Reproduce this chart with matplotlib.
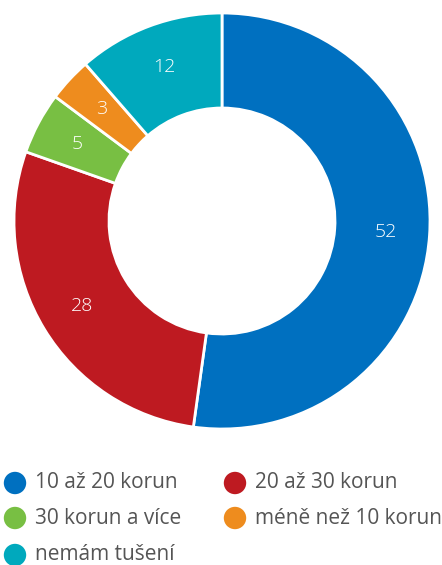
import matplotlib
matplotlib.use("Agg")
import matplotlib.pyplot as plt

categories = ["10 až 20 korun", "20 až 30 korun", "30 korun a více", "méně než 10 korun", "nemám tušení"]
values = [52.2, 28.2, 4.8, 3.4, 11.4]
labels = ["52", "28", "5", "3", "12"]
colors = ["#0070c0", "#be1a21", "#78bf43", "#ee8c1e", "#00a9bd"]

plt.rcParams['font.family'] = ['Open Sans', 'DejaVu Sans']

W, H = 442, 565
fig = plt.figure(figsize=(W/100, H/100), dpi=100)
ax = fig.add_axes([0, 0, 1, 1])

cx, cy = 222, H - 221
R, r_in = 208, 113
wedges, texts = ax.pie(values, colors=colors, startangle=90, counterclock=False,
                       radius=R, center=(cx, cy),
                       labels=labels, labeldistance=164 / R,
                       wedgeprops=dict(width=R - r_in, edgecolor="white", linewidth=2),
                       textprops=dict(color="white", fontsize=14, fontweight="light"))
for t in texts:
    t.set_ha("center"); t.set_va("center")

ax.set_xlim(0, W)
ax.set_ylim(0, H)
ax.set_aspect("equal")
ax.axis("off")

# legend (row-major, 2 columns)
col_x = [15, 235]
row_y = [483, 518, 555]
for i, (lab, col) in enumerate(zip(categories, colors)):
    x = col_x[i % 2]
    y = H - row_y[i // 2]
    ax.scatter([x], [y], s=260, color=col, edgecolors="none", clip_on=False)
    ax.text(x + 20, y, lab, fontsize=15, color="#555555", va="center", ha="left")

fig.savefig("out.png", dpi=100)
